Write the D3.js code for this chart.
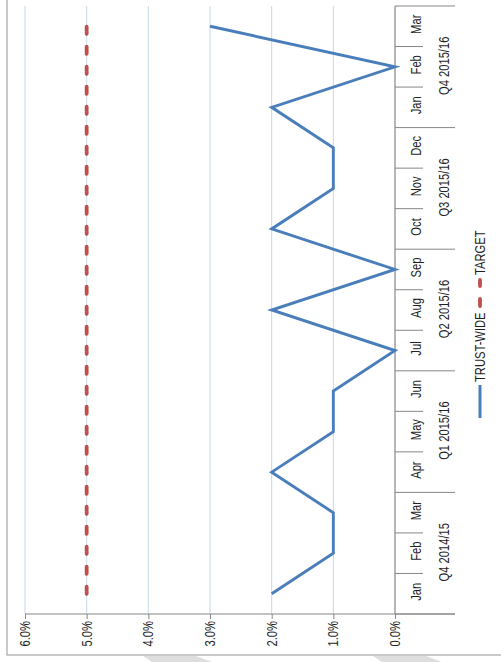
<!DOCTYPE html>
<html>
<head>
<meta charset="utf-8">
<script src="https://cdn.jsdelivr.net/npm/d3@7"></script>
<style>
  body { margin: 0; background: #fff; }
  svg text { font-family: "Liberation Sans", Arial, sans-serif; font-size: 14px; fill: #1f1f1f; }
</style>
</head>
<body>
<div id="chart"></div>
<script>
// chart data
var months = ["Jan", "Feb", "Mar", "Apr", "May", "Jun", "Jul", "Aug", "Sep", "Oct", "Nov", "Dec", "Jan", "Feb", "Mar"];
var quarters = ["Q4 2014/15", "Q1 2015/16", "Q2 2015/16", "Q3 2015/16", "Q4 2015/16"];
var trustWide = [0.02, 0.01, 0.01, 0.02, 0.01, 0.01, 0.00, 0.02, 0.00, 0.02, 0.01, 0.01, 0.02, 0.00, 0.03];
var target = [0.05, 0.05, 0.05, 0.05, 0.05, 0.05, 0.05, 0.05, 0.05, 0.05, 0.05, 0.05, 0.05, 0.05, 0.05];
var valueTicks = [0, 0.01, 0.02, 0.03, 0.04, 0.05, 0.06];

var pageW = 501, pageH = 662;
var blue = "#4a7ebb", red = "#c0504d", axisGrey = "#868686", gridBlue = "#c6d7ec";
var squeeze = 0.8; // narrow the text like the original condensed face

var svg = d3.select("#chart").append("svg")
    .attr("width", pageW)
    .attr("height", pageH);

// outer chart border (only left and bottom edges are in view)
svg.append("rect")
    .attr("x", 7).attr("y", -10)
    .attr("width", 600).attr("height", 665)
    .attr("fill", "none")
    .attr("stroke", "#a6a6a6")
    .attr("stroke-width", 1.2);

// grey shapes peeking in under the frame
svg.append("polygon").attr("points", "143,656 196,656 212,662 152,662").attr("fill", "#dedede");
svg.append("polygon").attr("points", "373,656 426,656 442,662 382,662").attr("fill", "#dedede");

// the chart is drawn landscape then turned a quarter turn to the left
var g = svg.append("g").attr("transform", "translate(0," + pageH + ") rotate(-90)");

var x = d3.scaleBand().domain(d3.range(months.length)).range([48, 656]);
var y = d3.scaleLinear().domain([0, 0.06]).range([395, 25]);
var cx = function(i) { return x(i) + x.bandwidth() / 2; };

function narrowAt(px, py) {
    return "translate(" + px + "," + py + ") scale(" + squeeze + ",1)";
}

// gridlines
g.selectAll(".grid").data(valueTicks.filter(function(t) { return t > 0; }))
    .enter().append("line")
    .attr("class", "grid")
    .attr("x1", x.range()[0]).attr("x2", x.range()[1])
    .attr("y1", function(d) { return y(d); }).attr("y2", function(d) { return y(d); })
    .attr("stroke", gridBlue).attr("stroke-width", 1);

// value axis
var yAxis = g.append("g")
    .attr("transform", "translate(" + x.range()[0] + ",0)")
    .call(d3.axisLeft(y).tickValues(valueTicks).tickFormat(d3.format(".1%")).tickSize(5).tickSizeOuter(0).tickPadding(3));
yAxis.select(".domain").remove();
yAxis.selectAll(".tick line").attr("stroke", axisGrey);
yAxis.selectAll(".tick text")
    .attr("font-size", 14).attr("font-family", null)
    .attr("x", null)
    .attr("transform", narrowAt(-7, 0));
g.append("line")
    .attr("x1", x.range()[0]).attr("x2", x.range()[0])
    .attr("y1", y(0.06)).attr("y2", 455)
    .attr("stroke", axisGrey).attr("stroke-width", 1.2);

// category axis
g.append("line")
    .attr("x1", x.range()[0]).attr("x2", x.range()[1])
    .attr("y1", y(0)).attr("y2", y(0))
    .attr("stroke", axisGrey).attr("stroke-width", 1.2);

var bounds = d3.range(months.length + 1);
g.selectAll(".sep").data(bounds).enter().append("line")
    .attr("class", "sep")
    .attr("x1", function(d) { return x.range()[0] + d * x.step(); })
    .attr("x2", function(d) { return x.range()[0] + d * x.step(); })
    .attr("y1", y(0))
    .attr("y2", function(d) { return d % 3 === 0 ? 455 : 423; })
    .attr("stroke", axisGrey).attr("stroke-width", 1);

g.selectAll(".month").data(months).enter().append("text")
    .attr("class", "month")
    .attr("transform", function(d, i) { return narrowAt(cx(i) + 2, 421); })
    .attr("text-anchor", "middle")
    .text(function(d) { return d; });

g.selectAll(".quarter").data(quarters).enter().append("text")
    .attr("class", "quarter")
    .attr("transform", function(d, i) { return narrowAt(cx(i * 3 + 1) + 1, 449); })
    .attr("text-anchor", "middle")
    .text(function(d) { return d; });

// series
var line = d3.line()
    .x(function(d, i) { return cx(i); })
    .y(function(d) { return y(d); });

g.append("path")
    .datum(target)
    .attr("d", line)
    .attr("fill", "none")
    .attr("stroke", red)
    .attr("stroke-width", 3.8)
    .attr("stroke-linecap", "round")
    .attr("stroke-dasharray", "7,13");

g.append("path")
    .datum(trustWide)
    .attr("d", line)
    .attr("fill", "none")
    .attr("stroke", blue)
    .attr("stroke-width", 2.9)
    .attr("stroke-linejoin", "miter");

// legend
var lg = g.append("g").attr("class", "legend");
lg.append("line")
    .attr("x1", 244).attr("x2", 277).attr("y1", 480).attr("y2", 480)
    .attr("stroke", blue).attr("stroke-width", 3);
lg.append("text").attr("transform", narrowAt(280, 485)).attr("font-size", 13.5).text("TRUST-WIDE");
lg.append("line")
    .attr("x1", 356).attr("x2", 382).attr("y1", 480).attr("y2", 480)
    .attr("stroke", red).attr("stroke-width", 3.8)
    .attr("stroke-linecap", "round")
    .attr("stroke-dasharray", "7,13");
lg.append("text").attr("transform", narrowAt(387, 485)).attr("font-size", 13.5).text("TARGET");
</script>
</body>
</html>
